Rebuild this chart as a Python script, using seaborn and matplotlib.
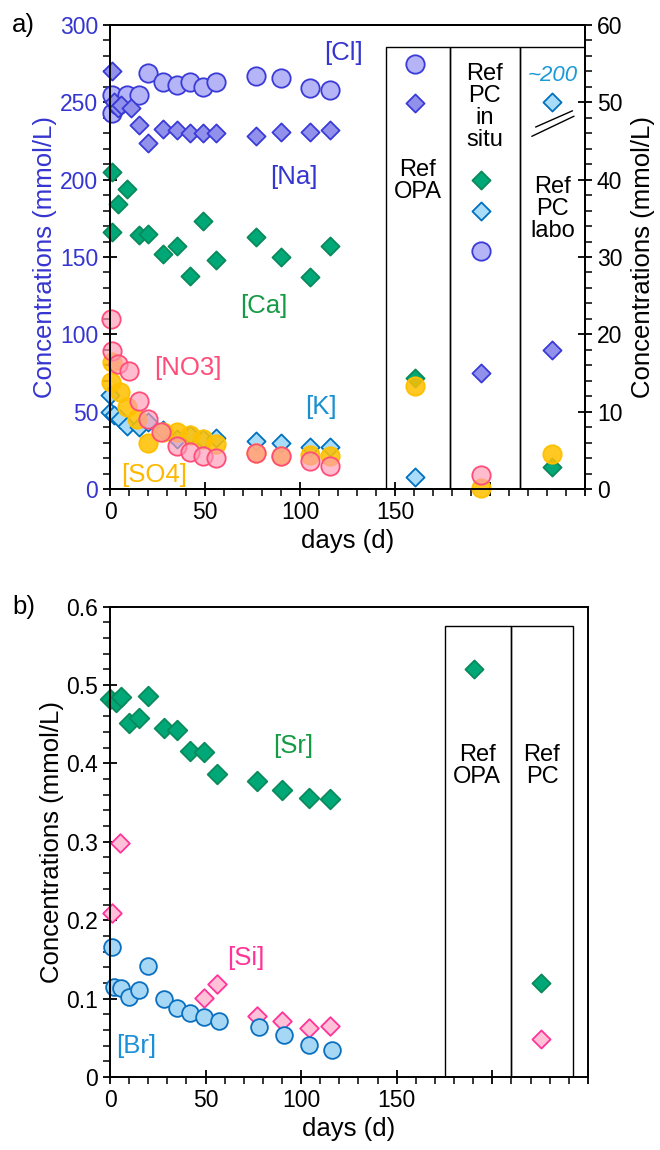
import matplotlib.pyplot as plt
import seaborn as sns
import pandas as pd
from matplotlib.patches import Rectangle
from matplotlib.ticker import MultipleLocator

sns.set_style('ticks')
plt.rcParams['font.family'] = ['Liberation Sans', 'DejaVu Sans']
plt.rcParams['text.color'] = 'black'
plt.rcParams['axes.labelcolor'] = 'black'
plt.rcParams['xtick.color'] = 'black'
plt.rcParams['ytick.color'] = 'black'

# ---------------- Data: panel a (mmol/L, left axis) ----------------
cl_days = [1, 1, 4, 9, 15, 20, 28, 35, 42, 49, 56, 77, 90, 105, 116]
cl_vals = [255, 243, 248, 255, 255, 269, 263, 261, 263, 260, 263, 267, 266, 259, 258]

na_days = [1, 2, 4, 6, 11, 15, 20, 28, 35, 42, 49, 56, 77, 90, 105, 116]
na_vals = [270, 250, 246, 248, 246, 235, 224, 233, 232, 230, 230, 230, 228, 231, 231, 232]

ca_days = [1, 1, 4, 9, 15, 20, 28, 35, 42, 49, 56, 77, 90, 105, 116]
ca_vals = [205, 166, 184, 194, 164, 165, 152, 157, 138, 173, 148, 163, 150, 137, 157]

no3_days = [0.4, 1, 4, 10, 15, 20, 27, 35, 42, 49, 56, 77, 90, 105, 116]
no3_vals = [110, 89, 81, 76, 57, 45, 37, 28, 24, 21, 20, 23, 21, 18, 15]

so4_days = [0.4, 1, 5, 9, 14, 20, 28, 35, 42, 49, 56, 77, 90, 105, 116]
so4_vals = [69, 82, 63, 53, 45, 30, 37, 37, 35, 32, 29, 23, 21, 22, 21]

k_days = [0, 0, 2, 5, 9, 15, 20, 28, 35, 42, 49, 56, 77, 90, 105, 116]
k_vals = [61, 50, 48, 45, 41, 40, 43, 38, 32, 35, 32, 33, 31, 30, 27, 27]

# reference waters (right axis, mmol/L)
ref_x = [160.5, 195.5, 232.5]
ref_cl = [55.0, 30.8, None]
ref_na = [49.9, 15.0, 18.0]
ref_ca = [14.4, 40.0, 2.8]
ref_so4 = [13.3, 0.1, 4.5]
ref_k = [1.55, 36.0, 50.0]
ref_no3 = [None, 1.8, None]

# ---------------- Data: panel b ----------------
sr_days = [0, 3, 6, 10, 15, 20, 28, 35, 42, 49, 56, 77, 90, 104, 115]
sr_vals = [0.482, 0.478, 0.485, 0.451, 0.458, 0.486, 0.445, 0.442, 0.416, 0.414,
           0.386, 0.378, 0.366, 0.356, 0.354]

si_days = [1, 5, 49, 56, 77, 90, 104, 115]
si_vals = [0.209, 0.299, 0.101, 0.118, 0.078, 0.072, 0.062, 0.065]

br_days = [1, 2, 6, 10, 15, 20, 28, 35, 42, 49, 57, 78, 91, 104, 116]
br_vals = [0.166, 0.115, 0.114, 0.102, 0.111, 0.142, 0.100, 0.088, 0.082, 0.076,
           0.072, 0.064, 0.053, 0.041, 0.035]

refb_x = [190.5, 225.5]
refb_sr = [0.521, 0.120]
refb_si = [None, 0.049]

# ---------------- Styles ----------------
BLUE = '#3535d0'
c_cl = dict(color='#b4b4f7', edgecolor='#3a3ad8')
c_na = dict(color='#9191ec', edgecolor='#3a3ad8')
c_ca = dict(color='#00a878', edgecolor='#0a8a5a')
c_no3 = dict(color='#ff9ab5a8', edgecolor='#ff4d7a')
c_so4 = dict(color='#ffc000dd', edgecolor='#ffc000')
c_k = dict(color='#a8dcf8', edgecolor='#0070c0')
c_sr = dict(color='#00a878', edgecolor='#0a8a5a')
c_si = dict(color='#ffc0d8', edgecolor='#ff3399')
c_br = dict(color='#a6d8f5', edgecolor='#0b6fc0')

S_CIRC = 175
S_DIAM = 85
TICK = 16.5
LAB = 18.5
BOXT = 17


def pts(ax, x, y, marker, s, style, lw=1.3):
    df = pd.DataFrame({'x': x, 'y': y}).dropna()
    sns.scatterplot(data=df, x='x', y='y', marker=marker, s=s, linewidth=lw,
                    ax=ax, clip_on=False, legend=False, **style)


def frame(ax):
    for sp in ax.spines.values():
        sp.set_visible(True)
        sp.set_linewidth(1.4)
        sp.set_color('black')
    ax.tick_params(which='major', direction='inout', length=10, width=1.3,
                   labelsize=TICK)
    ax.tick_params(which='minor', direction='out', length=5, width=1.1)


fig = plt.figure(figsize=(6.6, 11.5), dpi=100)

# ================= panel a =================
ax = fig.add_axes([0.1667, 0.5748, 0.7197, 0.4035])
axr = ax.twinx()

box_edges = [145, 179, 216, 250]
for i in range(3):
    ax.add_patch(Rectangle((box_edges[i], 0), box_edges[i + 1] - box_edges[i], 286,
                           fill=False, lw=1.0, ec='black', zorder=1))

pts(ax, cl_days, cl_vals, 'o', S_CIRC, c_cl)
pts(ax, na_days, na_vals, 'D', S_DIAM, c_na)
pts(ax, ca_days, ca_vals, 'D', S_DIAM, c_ca)
pts(ax, k_days, k_vals, 'D', S_DIAM, c_k)
pts(ax, so4_days, so4_vals, 'o', S_CIRC, c_so4)
pts(ax, no3_days, no3_vals, 'o', S_CIRC, c_no3)

pts(axr, ref_x, ref_cl, 'o', S_CIRC, c_cl)
pts(axr, ref_x, ref_na, 'D', S_DIAM, c_na)
pts(axr, ref_x, ref_ca, 'D', S_DIAM, c_ca)
pts(axr, ref_x, ref_k, 'D', S_DIAM, c_k)
pts(axr, ref_x, ref_so4, 'o', S_CIRC, c_so4)
pts(axr, ref_x, ref_no3, 'o', S_CIRC, c_no3)

ax.set_xlim(0, 250)
ax.set_ylim(0, 300)
axr.set_ylim(0, 60)
ax.set_xticks([0, 50, 100, 150, 200, 250])
ax.set_xticklabels(['0', '50', '100', '150', '', ''])
ax.xaxis.set_minor_locator(MultipleLocator(10))
ax.yaxis.set_major_locator(MultipleLocator(50))
ax.yaxis.set_minor_locator(MultipleLocator(10))
axr.yaxis.set_major_locator(MultipleLocator(10))
axr.yaxis.set_minor_locator(MultipleLocator(2))
frame(ax)
frame(axr)
ax.tick_params(axis='y', labelcolor=BLUE)
ax.set_xlabel('days (d)', fontsize=LAB)
ax.set_ylabel('Concentrations (mmol/L)', fontsize=LAB, color=BLUE, labelpad=2)
axr.set_ylabel('Concentrations (mmol/L)', fontsize=LAB, labelpad=6)

ax.text(123, 282, '[Cl]', color=BLUE, fontsize=LAB, ha='center', va='center')
ax.text(97, 202, '[Na]', color=BLUE, fontsize=LAB, ha='center', va='center')
ax.text(81, 118, '[Ca]', color='#159a45', fontsize=LAB, ha='center', va='center')
ax.text(41, 78, '[NO3]', color='#ff4d7a', fontsize=LAB, ha='center', va='center')
ax.text(111, 53, '[K]', color='#1a90d0', fontsize=LAB, ha='center', va='center')
ax.text(23, 9, '[SO4]', color='#ffb800', fontsize=LAB, ha='center', va='center')

ax.text(162, 199, 'Ref\nOPA', fontsize=BOXT, ha='center', va='center', linespacing=1.0)
ax.text(197, 247, 'Ref\nPC\nin\nsitu', fontsize=BOXT, ha='center', va='center', linespacing=1.0)
ax.text(233, 181, 'Ref\nPC\nlabo', fontsize=BOXT, ha='center', va='center', linespacing=1.0)
axr.text(233, 53.5, '~200', fontsize=TICK - 0.5, color='#1a9ad8', style='italic',
         ha='center', va='center')
axr.plot([224, 243.4], [46.8, 48.9], color='black', lw=1.0)
axr.plot([222, 244.2], [45.6, 48.2], color='black', lw=1.0)

fig.text(0.018, 0.978, 'a)', fontsize=LAB, ha='left', va='center')

# ================= panel b =================
bx = fig.add_axes([0.1667, 0.0635, 0.724, 0.409])

boxb = [175, 209.6, 242]
for i in range(2):
    bx.add_patch(Rectangle((boxb[i], 0), boxb[i + 1] - boxb[i], 0.575,
                           fill=False, lw=1.0, ec='black', zorder=1))

pts(bx, sr_days, sr_vals, 'D', S_DIAM + 15, c_sr)
pts(bx, si_days, si_vals, 'D', S_DIAM + 5, c_si)
pts(bx, br_days, br_vals, 'o', S_CIRC - 30, c_br)
pts(bx, refb_x, refb_sr, 'D', S_DIAM, c_sr)
pts(bx, refb_x, refb_si, 'D', S_DIAM, c_si)

bx.set_xlim(0, 250)
bx.set_ylim(0, 0.6)
bx.set_xticks([0, 50, 100, 150, 200, 250])
bx.set_xticklabels(['0', '50', '100', '150', '', ''])
bx.xaxis.set_minor_locator(MultipleLocator(10))
bx.yaxis.set_minor_locator(MultipleLocator(0.02))
bx.set_yticks([0, 0.1, 0.2, 0.3, 0.4, 0.5, 0.6])
bx.set_yticklabels(['0', '0.1', '0.2', '0.3', '0.4', '0.5', '0.6'])
frame(bx)
bx.set_xlabel('days (d)', fontsize=LAB)
bx.set_ylabel('Concentrations (mmol/L)', fontsize=LAB, labelpad=2)

bx.text(96, 0.422, '[Sr]', color='#159a45', fontsize=LAB, ha='center', va='center')
bx.text(71, 0.152, '[Si]', color='#ff3399', fontsize=LAB, ha='center', va='center')
bx.text(13.5, 0.039, '[Br]', color='#1a90d8', fontsize=LAB, ha='center', va='center')
bx.text(192, 0.397, 'Ref\nOPA', fontsize=BOXT, ha='center', va='center', linespacing=1.0)
bx.text(226, 0.397, 'Ref\nPC', fontsize=BOXT, ha='center', va='center', linespacing=1.0)

fig.text(0.018, 0.472, 'b)', fontsize=LAB, ha='left', va='center')

fig.savefig('out.png', dpi=100)
